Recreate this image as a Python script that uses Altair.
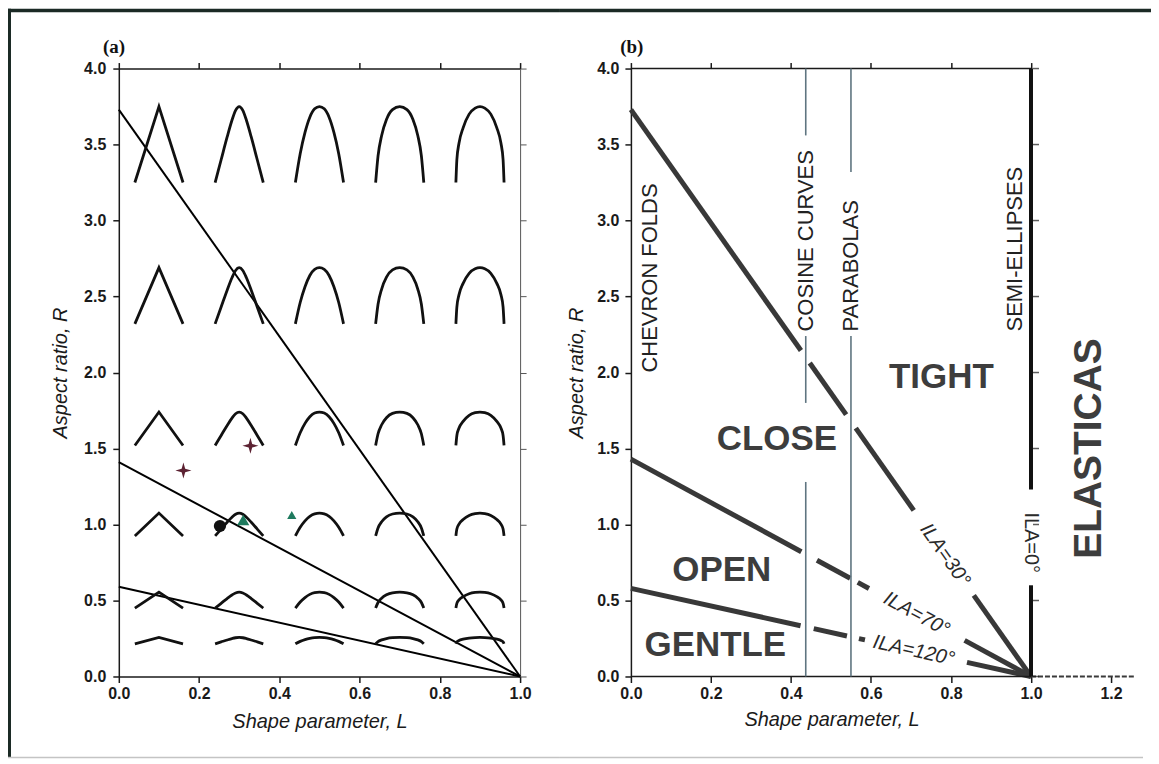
import altair as alt
import pandas as pd

# ---------------- data : panel (a) ----------------
a_line_R0 = [3.73, 1.41, 0.59]          # straight lines from (0, R0) to (1, 0)
glyph_cols_L = [0.1, 0.3, 0.5, 0.7, 0.9]
glyph_half_w = 0.06
glyph_rows_base = [3.25, 2.32, 1.52, 0.925, 0.45, 0.215]
glyph_rows_apex = [3.75, 2.69, 1.74, 1.075, 0.555, 0.257]
# left half-profiles of the fold glyphs (u: -1..0 across, v: 0..1 up), mirrored
glyph_prof_u = [
    [-1.0, 0.0],
    [-1.0, -0.75, -0.5, -0.3, -0.15, 0.0],
    [-1.0, -0.8, -0.6, -0.4, -0.2, 0.0],
    [-1.0, -0.9, -0.75, -0.55, -0.3, 0.0],
    [-1.0, -0.96, -0.87, -0.7, -0.45, -0.2, 0.0],
]
glyph_prof_v = [
    [0.0, 1.0],
    [0.0, 0.3, 0.6, 0.82, 0.95, 1.0],
    [0.0, 0.38, 0.66, 0.86, 0.97, 1.0],
    [0.0, 0.35, 0.62, 0.83, 0.96, 1.0],
    [0.0, 0.3, 0.52, 0.72, 0.9, 0.98, 1.0],
]
star_L = [0.161, 0.328]
star_R = [1.355, 1.518]
tri_L = [0.31, 0.431]
tri_R = [1.03, 1.063]
tri_size = [150, 85]
dot_L = [0.252]
dot_R = [0.99]
panel_label = ["(a)", "(b)"]
panel_label_L = [-0.012, 0.002]
panel_label_R = [4.145, 4.145]

# ---------------- data : panel (b) ----------------
b_line_R0 = [3.73, 1.43, 0.58]
b_line_segments = [
    [(0.0, 0.425), (0.447, 0.538), (0.562, 0.707), (0.857, 1.0)],
    [(0.0, 0.426), (0.465, 0.548), (0.567, 0.595), (0.834, 1.0)],
    [(0.0, 0.424), (0.457, 0.540), (0.570, 0.585), (0.840, 1.0)],
]
vert_L = [0.437, 0.55]
vert_segments = [[(0.0, 1.28), (1.80, 2.24), (3.56, 4.0)],
                 [(0.0, 2.24), (3.32, 4.0)]]
ila0_L = 1.0
ila0_segments = [(0.0, 0.60), (1.23, 4.0)]

rot_text = ["CHEVRON FOLDS", "COSINE CURVES", "PARABOLAS", "SEMI-ELLIPSES"]
rot_L = [0.047, 0.437, 0.55, 0.96]
rot_R = [2.0, 2.27, 2.27, 2.27]

region_text = ["TIGHT", "CLOSE", "OPEN", "GENTLE"]
region_L = [0.776, 0.365, 0.227, 0.211]
region_R = [1.97, 1.56, 0.70, 0.207]

elastic_text = ["ELASTICAS"]
elastic_L = [1.145]
elastic_R = [1.50]

ila_text = ["ILA=30°", "ILA=70°", "ILA=120°"]
ila_L = [0.785, 0.714, 0.707]
ila_R = [0.80, 0.41, 0.17]
ila_angle = [54.8, 28.5, 12.4]
ila0_text = ["ILA=0°"]
ila0_R = [0.88]

x_ticks_a = [0.0, 0.2, 0.4, 0.6, 0.8, 1.0]
x_ticks_b = [0.0, 0.2, 0.4, 0.6, 0.8, 1.0, 1.2]
y_ticks = [0.0, 0.5, 1.0, 1.5, 2.0, 2.5, 3.0, 3.5, 4.0]

# ---------------- tables ----------------
a_lines_df = pd.DataFrame([{"id": i, "L": L, "R": R0 * (1 - L)}
                           for i, R0 in enumerate(a_line_R0) for L in (0.0, 1.0)])

g_rows = []
for ri, (b, a) in enumerate(zip(glyph_rows_base, glyph_rows_apex)):
    for ci, c in enumerate(glyph_cols_L):
        us = glyph_prof_u[ci] + [-u for u in reversed(glyph_prof_u[ci][:-1])]
        vs = glyph_prof_v[ci] + list(reversed(glyph_prof_v[ci][:-1]))
        for k, (u, v) in enumerate(zip(us, vs)):
            g_rows.append({"gid": f"{ri}-{ci}", "kind": "chev" if ci == 0 else "round",
                           "k": k, "L": c + u * glyph_half_w, "R": b + v * (a - b)})
glyph_df = pd.DataFrame(g_rows)

star_df = pd.DataFrame({"L": star_L, "R": star_R})
tri_df = pd.DataFrame({"L": tri_L, "R": tri_R, "s": tri_size})
dot_df = pd.DataFrame({"L": dot_L, "R": dot_R})

seg_rows = []
for i, (R0, segs) in enumerate(zip(b_line_R0, b_line_segments)):
    for (l1, l2) in segs:
        seg_rows.append({"id": i, "L1": l1, "L2": l2, "R1": R0 * (1 - l1), "R2": R0 * (1 - l2)})
seg_df = pd.DataFrame(seg_rows)

vert_rows = []
for L, segs in zip(vert_L, vert_segments):
    for (r1, r2) in segs:
        vert_rows.append({"L": L, "R1": r1, "R2": r2})
vert_df = pd.DataFrame(vert_rows)
ila0_df = pd.DataFrame([{"L": ila0_L, "R1": r1, "R2": r2} for (r1, r2) in ila0_segments])

dummy = pd.DataFrame({"k": [0]})

FONT = "Liberation Sans"
H = 609
W_A = 402
W_B = 509
xa = alt.Scale(domain=[0, 1], nice=False, zero=False)
xb = alt.Scale(domain=[0, 1.27], nice=False, zero=False)
ys = alt.Scale(domain=[0, 4], nice=False, zero=False)

def XQ(field, scale):
    return alt.X(f"{field}:Q", scale=scale, axis=None)

def YQ(field):
    return alt.Y(f"{field}:Q", scale=ys, axis=None)

FRAME = "#1b2a25"

def frame_rect(x1, x2, y1, y2, color):
    return alt.Chart(dummy).mark_rect(color=color, strokeWidth=0).encode(
        x=alt.value(x1), x2=alt.value(x2), y=alt.value(y1), y2=alt.value(y2))

# ---------------- panel (a) ----------------
a_main = alt.Chart(a_lines_df).mark_line(color="black", strokeWidth=2).encode(
    x=alt.X("L:Q", scale=xa, axis=alt.Axis(orient="bottom", values=x_ticks_a, format=".1f",
                                            title="Shape parameter, L", titleY=45,
                                            titleBaseline="middle", labelPadding=3)),
    y=alt.Y("R:Q", scale=ys, axis=alt.Axis(orient="left", values=y_ticks, format=".1f",
                                            title="Aspect ratio, R", titleX=-58,
                                            titleBaseline="middle", labelPadding=7)),
    detail="id:N",
)
a_axes2 = alt.Chart(a_lines_df).mark_point(opacity=0, size=1).encode(
    x=alt.X("L:Q", scale=xa, axis=alt.Axis(orient="top", values=x_ticks_a, labels=False, title=None)),
    y=alt.Y("R:Q", scale=ys, axis=alt.Axis(orient="right", values=y_ticks, labels=False, title=None,
                                            domainColor="#555", domainWidth=1,
                                            tickColor="#555", tickWidth=1)),
)
g_chev = alt.Chart(glyph_df[glyph_df.kind == "chev"]).mark_line(
    color="#111", strokeWidth=2.8, interpolate="linear").encode(
    x=XQ("L", xa), y=YQ("R"), detail="gid:N", order="k:Q")
g_round = alt.Chart(glyph_df[glyph_df.kind == "round"]).mark_line(
    color="#111", strokeWidth=2.8, interpolate="monotone").encode(
    x=XQ("L", xa), y=YQ("R"), detail="gid:N", order="k:Q")
star_path = "M0,-1L0.22,-0.22L1,0L0.22,0.22L0,1L-0.22,0.22L-1,0L-0.22,-0.22Z"
a_star = alt.Chart(star_df).mark_point(shape=star_path, filled=True, color="#5c2232",
                                       size=260, opacity=1).encode(x=XQ("L", xa), y=YQ("R"))
a_tri = alt.Chart(tri_df).mark_point(shape="triangle-up", filled=True, color="#1e7a5e",
                                     opacity=1).encode(
    x=XQ("L", xa), y=YQ("R"), size=alt.Size("s:Q", scale=None, legend=None))
a_dot = alt.Chart(dot_df).mark_point(shape="circle", filled=True, color="#111", size=150,
                                     opacity=1).encode(x=XQ("L", xa), y=YQ("R"))
a_title = alt.Chart(pd.DataFrame({"t": panel_label[:1], "L": panel_label_L[:1], "R": panel_label_R[:1]})
                    ).mark_text(font="Liberation Serif", fontWeight="bold", fontSize=19,
                                color="#111", baseline="middle").encode(
    x=XQ("L", xa), y=YQ("R"), text="t:N")
a_frame_l = frame_rect(-111, -108, -60, 690, FRAME)
a_frame_t = frame_rect(-111, 441, -60, -56.5, FRAME)
a_frame_b = frame_rect(-111, 441, 689.5, 691, "#c4c4c4")

panel_a = alt.layer(a_main, a_axes2, g_chev, g_round, a_star, a_tri, a_dot, a_title,
                    a_frame_l, a_frame_t, a_frame_b).resolve_axis(
    x="independent", y="independent").properties(width=W_A, height=H)

# ---------------- panel (b) ----------------
b_main = alt.Chart(seg_df).mark_rule(color="#383838", strokeWidth=5).encode(
    x=alt.X("L1:Q", scale=xb, axis=alt.Axis(orient="bottom", values=x_ticks_b, format=".1f",
                                             title="Shape parameter, L", titleY=43, titleX=201,
                                             titleBaseline="middle", labelPadding=3, domain=False)),
    x2="L2:Q",
    y=alt.Y("R1:Q", scale=ys, axis=alt.Axis(orient="left", values=y_ticks, format=".1f",
                                             title="Aspect ratio, R", titleX=-54,
                                             titleBaseline="middle", labelPadding=6)),
    y2="R2:Q",
)
b_top = alt.Chart(pd.DataFrame({"L1": [0.0], "L2": [1.0], "R": [4.0]})).mark_rule(
    color="#1a1a1a", strokeWidth=1.5).encode(
    x=alt.X("L1:Q", scale=xb, axis=alt.Axis(orient="top", values=x_ticks_a, labels=False,
                                             title=None, domain=False)),
    x2="L2:Q", y=YQ("R"))
b_base = alt.Chart(pd.DataFrame({"L1": [0.0], "L2": [1.0], "R": [0.0]})).mark_rule(
    color="#1a1a1a", strokeWidth=1.5).encode(x=XQ("L1", xb), x2="L2:Q", y=YQ("R"))
b_base_ext = alt.Chart(pd.DataFrame({"L1": [1.0], "L2": [1.26], "R": [0.0]})).mark_rule(
    color="#3a3a3a", strokeWidth=2, strokeDash=[5, 2]).encode(x=XQ("L1", xb), x2="L2:Q", y=YQ("R"))
b_vert = alt.Chart(vert_df).mark_rule(color="#5f7580", strokeWidth=1.6).encode(
    x=XQ("L", xb), y=YQ("R1"), y2="R2:Q")
b_ila0 = alt.Chart(ila0_df).mark_rule(color="#111", strokeWidth=4).encode(
    x=XQ("L", xb), y=YQ("R1"), y2="R2:Q")
b_rticks = alt.Chart(pd.DataFrame({"L": [1.0] * len(y_ticks), "R": y_ticks})).mark_tick(
    orient="horizontal", size=6, thickness=1.5, color="#1a1a1a", xOffset=5).encode(
    x=XQ("L", xb), y=YQ("R"))
b_rot = alt.Chart(pd.DataFrame({"t": rot_text, "L": rot_L, "R": rot_R})).mark_text(
    angle=270, align="left", baseline="middle", font=FONT, fontSize=22, color="#222").encode(
    x=XQ("L", xb), y=YQ("R"), text="t:N")
b_region = alt.Chart(pd.DataFrame({"t": region_text, "L": region_L, "R": region_R})).mark_text(
    align="center", baseline="middle", font=FONT, fontSize=35, fontWeight="bold",
    color="#3d3d3d").encode(x=XQ("L", xb), y=YQ("R"), text="t:N")
b_elastic = alt.Chart(pd.DataFrame({"t": elastic_text, "L": elastic_L, "R": elastic_R})).mark_text(
    angle=270, align="center", baseline="middle", font=FONT, fontSize=39, fontWeight="bold",
    color="#3d3d3d").encode(x=XQ("L", xb), y=YQ("R"), text="t:N")
b_ila = alt.Chart(pd.DataFrame({"t": ila_text, "L": ila_L, "R": ila_R, "a": ila_angle})).mark_text(
    align="center", baseline="middle", font=FONT, fontSize=20, fontStyle="italic",
    color="#2a2a2a").encode(x=XQ("L", xb), y=YQ("R"), text="t:N",
                            angle=alt.Angle("a:Q", scale=None))
b_ila0_t = alt.Chart(pd.DataFrame({"t": ila0_text, "L": [ila0_L], "R": ila0_R})).mark_text(
    angle=90, align="center", baseline="middle", font=FONT, fontSize=20,
    color="#2a2a2a").encode(x=XQ("L", xb), y=YQ("R"), text="t:N")
b_title = alt.Chart(pd.DataFrame({"t": panel_label[1:], "L": panel_label_L[1:], "R": panel_label_R[1:]})
                    ).mark_text(font="Liberation Serif", fontWeight="bold", fontSize=19,
                                color="#111", baseline="middle").encode(
    x=XQ("L", xb), y=YQ("R"), text="t:N")
b_frame_t = frame_rect(-72, 521, -60, -56.5, FRAME)
b_frame_b = frame_rect(-72, 513, 689.5, 691, "#c4c4c4")

panel_b = alt.layer(b_main, b_top, b_base, b_base_ext, b_vert, b_ila0, b_rticks, b_rot,
                    b_region, b_elastic, b_ila, b_ila0_t, b_title, b_frame_t, b_frame_b
                    ).resolve_axis(x="independent", y="independent").properties(width=W_B, height=H)

chart = alt.hconcat(panel_a, panel_b, spacing=0).properties(
    padding=0, background="white"
).configure_view(strokeWidth=0).configure_axis(
    domainColor="#1a1a1a", domainWidth=1.5, tickColor="#1a1a1a", tickWidth=1.5, tickSize=6,
    grid=False, labelFlush=False, labelFont=FONT, labelFontSize=16, labelFontWeight="bold",
    labelColor="#1a1a1a", titleFont=FONT, titleFontSize=20, titleFontStyle="italic",
    titleFontWeight="normal", titleColor="#1a1a1a"
)

chart.save("out.html", embed_options={"renderer": "svg", "actions": False})
